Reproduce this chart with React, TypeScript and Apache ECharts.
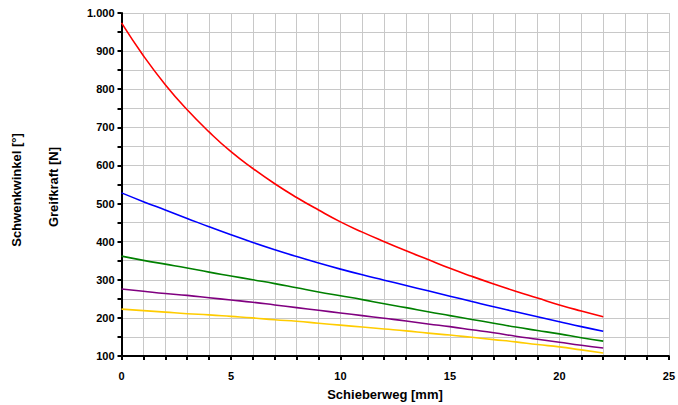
import React, { useEffect, useRef } from "react";
import * as echarts from "echarts";

const xValues = [0, 1, 2, 3, 4, 5, 6, 7, 8, 9, 10, 11, 12, 13, 14, 15, 16, 17, 18, 19, 20, 21, 22];
const redValues = [974, 888, 812, 746, 688, 636, 592, 552, 516, 483, 452, 425, 400, 376, 353, 330, 309, 289, 270, 252, 234, 218, 203];
const blueValues = [528, 505, 483, 461, 439, 418, 398, 379, 361, 344, 328, 313, 299, 285, 271, 257, 243, 229, 216, 203, 190, 177, 165];
const greenValues = [362, 351, 341, 331, 320, 310, 300, 290, 279, 268, 258, 248, 237, 227, 216, 206, 196, 186, 176, 167, 158, 148, 139];
const purpleValues = [276, 270, 264, 259, 253, 247, 241, 234, 227, 220, 213, 206, 199, 192, 184, 177, 169, 161, 152, 144, 136, 128, 121];
const yellowValues = [223, 219, 215, 211, 208, 204, 200, 195, 191, 186, 181, 176, 171, 166, 160, 155, 149, 143, 137, 130, 124, 116, 108];

const seriesDefs = [
  { name: "rot", color: "#ff0000", values: redValues },
  { name: "blau", color: "#0000ff", values: blueValues },
  { name: "gruen", color: "#008000", values: greenValues },
  { name: "lila", color: "#800080", values: purpleValues },
  { name: "gelb", color: "#ffcc00", values: yellowValues },
];

const xTitle = "Schieberweg [mm]";
const yTitle1 = "Schwenkwinkel [°]";
const yTitle2 = "Greifkraft [N]";

const FONT = "'Liberation Sans', Arial, sans-serif";
const GRID_COLOR = "#c8c8c8";

export default function App() {
  const ref = useRef<HTMLDivElement>(null);
  useEffect(() => {
    if (!ref.current) return;
    const chart = echarts.init(ref.current, undefined, { renderer: "svg" });
    chart.setOption({
      animation: false,
      backgroundColor: "#ffffff",
      grid: { left: 121.5, right: 2, top: 13, bottom: 49, containLabel: false },
      xAxis: {
        type: "value",
        min: 0,
        max: 25,
        interval: 1,
        axisLine: { show: true, onZero: false, lineStyle: { color: "#000", width: 2 } },
        axisTick: { show: true, length: 4, lineStyle: { color: "#000", width: 2 } },
        splitLine: { show: true, lineStyle: { color: GRID_COLOR, width: 1 } },
        axisLabel: {
          margin: 14,
          color: "#000",
          fontFamily: FONT,
          fontWeight: "bold",
          fontSize: 11,
          showMinLabel: true,
          showMaxLabel: true,
          hideOverlap: false,
          interval: 0,
          formatter: (v: number) => (Math.round(v) % 5 === 0 ? String(Math.round(v)) : ""),
        },
      },
      yAxis: {
        type: "value",
        min: 100,
        max: 1000,
        interval: 50,
        axisLine: { show: true, onZero: false, lineStyle: { color: "#000", width: 2 } },
        axisTick: { show: true, length: 4, lineStyle: { color: "#000", width: 2 } },
        splitLine: { show: true, lineStyle: { color: GRID_COLOR, width: 1 } },
        axisLabel: {
          margin: 7,
          color: "#000",
          fontFamily: FONT,
          fontWeight: "bold",
          fontSize: 11,
          interval: 0,
          hideOverlap: false,
          formatter: (v: number) =>
            Math.round(v) % 100 !== 0 ? "" : v >= 1000 ? "1.000" : String(Math.round(v)),
        },
      },
      series: seriesDefs.map((s) => ({
        name: s.name,
        type: "line",
        smooth: true,
        showSymbol: false,
        symbol: "none",
        data: xValues.map((x, i) => [x, s.values[i]]),
        lineStyle: { color: s.color, width: 1.6 },
        itemStyle: { color: s.color },
      })),
      graphic: [
        {
          type: "text",
          x: 385,
          y: 394,
          style: {
            text: xTitle,
            fill: "#000",
            font: `bold 13px ${FONT}`,
            textAlign: "center",
            textVerticalAlign: "middle",
          },
        },
        {
          type: "text",
          x: 16.5,
          y: 190,
          rotation: Math.PI / 2,
          style: {
            text: yTitle1,
            fill: "#000",
            font: `bold 13px ${FONT}`,
            textAlign: "center",
            textVerticalAlign: "middle",
          },
        },
        {
          type: "text",
          x: 53,
          y: 187,
          rotation: Math.PI / 2,
          style: {
            text: yTitle2,
            fill: "#000",
            font: `bold 13px ${FONT}`,
            textAlign: "center",
            textVerticalAlign: "middle",
          },
        },
      ],
    });
    return () => chart.dispose();
  }, []);
  return (
    <div
      ref={ref}
      style={{ position: "fixed", left: 0, top: 0, width: 678, height: 405, background: "#fff" }}
    />
  );
}
